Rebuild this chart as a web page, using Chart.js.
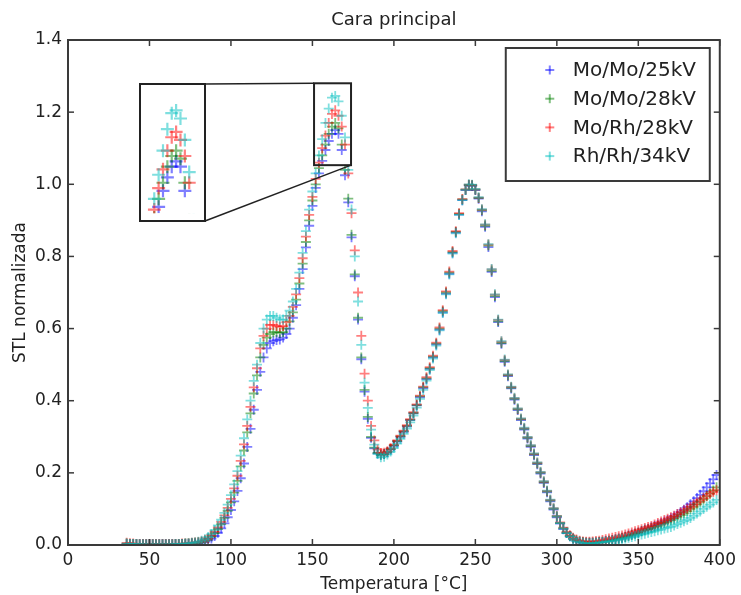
<!DOCTYPE html>
<html>
<head>
<meta charset="utf-8">
<script src="https://cdn.jsdelivr.net/npm/chart.js@4.4.1/dist/chart.umd.min.js"></script>
<style>
  html, body { margin: 0; padding: 0; background: #fff; }
  #wrap { position: relative; width: 741px; height: 595px; }
  #main { position: absolute; left: 0; top: 0; }
  #zoom { position: absolute; left: 139px; top: 83px; background: #fff; }
</style>
</head>
<body>
<div id="wrap">
  <canvas id="main" width="741" height="595"></canvas>
  <canvas id="zoom" width="67" height="139"></canvas>
</div>
<script>
// Temperatura [°C]
var temperatura = [
  36, 38, 40, 42, 44, 46, 48, 50, 52, 54,
  56, 58, 60, 62, 64, 66, 68, 70, 72, 74,
  76, 78, 80, 82, 84, 86, 88, 90, 92, 94,
  96, 98, 100, 102, 104, 106, 108, 110, 112, 114,
  116, 118, 120, 122, 124, 126, 128, 130, 132, 134,
  136, 138, 140, 142, 144, 146, 148, 150, 152, 154,
  156, 158, 160, 162, 164, 166, 168, 170, 172, 174,
  176, 178, 180, 182, 184, 186, 188, 190, 192, 194,
  196, 198, 200, 202, 204, 206, 208, 210, 212, 214,
  216, 218, 220, 222, 224, 226, 228, 230, 232, 234,
  236, 238, 240, 242, 244, 246, 248, 250, 252, 254,
  256, 258, 260, 262, 264, 266, 268, 270, 272, 274,
  276, 278, 280, 282, 284, 286, 288, 290, 292, 294,
  296, 298, 300, 302, 304, 306, 308, 310, 312, 314,
  316, 318, 320, 322, 324, 326, 328, 330, 332, 334,
  336, 338, 340, 342, 344, 346, 348, 350, 352, 354,
  356, 358, 360, 362, 364, 366, 368, 370, 372, 374,
  376, 378, 380, 382, 384, 386, 388, 390, 392, 394,
  396, 398
];

// STL normalizada, one list per tube / filter / voltage
var moMo25 = [
  .003, .003, .002, .002, .002, .002, .002, .002, .002, .002,
  .002, .002, .002, .002, .002, .002, .002, .003, .003, .003,
  .004, .004, .005, .007, .009, .013, .018, .025, .034, .046,
  .060, .077, .097, .121, .150, .185, .226, .272, .322, .375,
  .430, .480, .520, .545, .560, .565, .568, .570, .575, .585,
  .600, .630, .665, .710, .765, .825, .885, .940, .990, 1.030,
  1.065, 1.095, 1.120, 1.140, 1.150, 1.140, 1.095, 1.025, .950, .853,
  .745, .625, .515, .425, .350, .297, .268, .254, .250, .252,
  .257, .265, .275, .287, .300, .314, .329, .346, .365, .387,
  .410, .435, .460, .488, .520, .556, .597, .645, .697, .752,
  .810, .866, .916, .956, .984, .997, .996, .984, .960, .925,
  .882, .826, .757, .687, .618, .558, .508, .468, .434, .403,
  .374, .346, .320, .295, .272, .249, .224, .198, .172, .146,
  .121, .098, .077, .059, .044, .033, .024, .017, .012, .009,
  .007, .006, .006, .006, .007, .008, .009, .011, .012, .014,
  .016, .018, .020, .023, .026, .029, .032, .035, .039, .043,
  .045, .049, .053, .057, .061, .065, .069, .074, .079, .085,
  .091, .098, .105, .113, .121, .130, .139, .149, .160, .171,
  .182, .194
];
var moMo28 = [
  .004, .003, .003, .003, .002, .002, .002, .002, .002, .002,
  .002, .002, .002, .002, .002, .003, .003, .003, .004, .004,
  .005, .006, .007, .009, .012, .017, .024, .033, .044, .058,
  .075, .095, .118, .145, .178, .218, .262, .312, .365, .420,
  .470, .520, .555, .575, .585, .590, .590, .588, .590, .600,
  .620, .645, .680, .725, .780, .840, .900, .955, 1.000, 1.045,
  1.080, 1.110, 1.140, 1.160, 1.170, 1.155, 1.110, 1.040, .960, .860,
  .750, .630, .520, .430, .355, .300, .270, .255, .250, .252,
  .258, .266, .276, .288, .301, .315, .330, .347, .366, .388,
  .412, .437, .462, .490, .522, .558, .600, .648, .700, .755,
  .812, .868, .918, .958, .985, .998, .997, .985, .962, .928,
  .885, .830, .760, .690, .620, .560, .510, .470, .436, .405,
  .376, .348, .322, .297, .274, .251, .226, .200, .174, .148,
  .123, .100, .079, .061, .046, .034, .025, .018, .013, .010,
  .008, .007, .006, .007, .007, .008, .009, .010, .012, .013,
  .015, .017, .020, .022, .025, .028, .031, .034, .038, .041,
  .044, .047, .050, .053, .057, .061, .065, .069, .073, .078,
  .083, .088, .094, .100, .106, .113, .120, .127, .135, .143,
  .151, .160
];
var moRh28 = [
  .006, .005, .004, .003, .003, .003, .003, .003, .003, .003,
  .003, .003, .003, .003, .003, .003, .003, .004, .004, .005,
  .006, .007, .008, .010, .014, .019, .027, .037, .049, .064,
  .082, .103, .128, .157, .192, .233, .279, .330, .383, .437,
  .490, .545, .580, .600, .610, .610, .607, .605, .607, .618,
  .635, .660, .695, .740, .795, .855, .915, .965, 1.015, 1.060,
  1.100, 1.135, 1.170, 1.195, 1.205, 1.190, 1.160, 1.110, 1.030, .920,
  .817, .700, .580, .475, .400, .330, .290, .265, .255, .256,
  .260, .268, .278, .290, .303, .317, .332, .349, .368, .390,
  .414, .439, .465, .493, .525, .561, .603, .651, .703, .758,
  .815, .870, .920, .959, .986, .999, .998, .986, .963, .930,
  .888, .833, .764, .694, .624, .564, .513, .472, .438, .407,
  .378, .350, .324, .299, .276, .253, .228, .202, .176, .150,
  .125, .102, .081, .063, .048, .036, .027, .020, .015, .012,
  .010, .009, .009, .010, .011, .012, .014, .016, .018, .020,
  .022, .024, .026, .029, .032, .035, .038, .041, .044, .047,
  .050, .053, .057, .061, .065, .069, .073, .077, .081, .086,
  .091, .096, .101, .106, .112, .118, .124, .130, .136, .142,
  .147, .152
];
var rhRh34 = [
  .004, .003, .003, .003, .002, .002, .002, .002, .002, .002,
  .002, .002, .002, .002, .002, .003, .003, .003, .004, .005,
  .006, .007, .009, .012, .016, .022, .030, .041, .054, .070,
  .089, .112, .138, .168, .205, .248, .296, .348, .400, .455,
  .500, .560, .600, .625, .635, .635, .630, .625, .625, .635,
  .650, .675, .710, .755, .810, .870, .930, .980, 1.030, 1.080,
  1.125, 1.170, 1.210, 1.240, 1.245, 1.230, 1.190, 1.130, 1.040, .930,
  .800, .675, .555, .450, .380, .320, .278, .252, .243, .245,
  .251, .259, .269, .281, .294, .308, .323, .340, .359, .381,
  .405, .430, .456, .485, .517, .553, .595, .643, .695, .750,
  .808, .864, .915, .956, .985, 1.000, .999, .987, .964, .931,
  .889, .834, .765, .695, .625, .565, .514, .473, .439, .408,
  .379, .351, .325, .300, .277, .254, .229, .203, .177, .151,
  .126, .102, .080, .061, .046, .033, .024, .017, .011, .008,
  .006, .005, .004, .005, .006, .007, .008, .009, .010, .011,
  .013, .015, .016, .018, .020, .022, .024, .027, .029, .031,
  .034, .036, .038, .041, .043, .046, .048, .050, .054, .058,
  .062, .066, .070, .075, .081, .087, .093, .100, .106, .112,
  .118, .125
];

var etiquetas = ["Mo/Mo/25kV", "Mo/Mo/28kV", "Mo/Rh/28kV", "Rh/Rh/34kV"];
var colores = ["rgba(0,0,255,0.5)", "rgba(0,128,0,0.5)", "rgba(255,0,0,0.5)", "rgba(0,191,191,0.5)"];
var valores = [moMo25, moMo28, moRh28, rhRh34];

// zoomed window around the first peak
var zoomT = [151, 173.7];
var zoomV = [1.053, 1.28];

var fuente = "DejaVu Sans";
var gris = "#3a3a3a";

function makeDatasets(radius, width) {
  return valores.map(function (vals, i) {
    return {
      label: etiquetas[i],
      data: temperatura.map(function (t, k) { return { x: t, y: vals[k] }; }),
      pointStyle: "cross",
      pointRadius: radius,
      pointBorderWidth: width,
      borderColor: colores[i],
      backgroundColor: colores[i],
      // last series on top, like the original plot
      order: valores.length - 1 - i
    };
  });
}

function line(ctx, x1, y1, x2, y2) {
  ctx.beginPath();
  ctx.moveTo(x1, y1);
  ctx.lineTo(x2, y2);
  ctx.stroke();
}

// frame, inward ticks on the four sides, zoom box and legend
var framePlugin = {
  id: "frame",
  afterDraw: function (chart) {
    var ctx = chart.ctx;
    var a = chart.chartArea;
    var xs = chart.scales.x, ys = chart.scales.y;
    ctx.save();
    ctx.strokeStyle = gris;
    ctx.lineWidth = 1.5;
    xs.ticks.forEach(function (t) {
      var px = xs.getPixelForValue(t.value);
      line(ctx, px, a.bottom, px, a.bottom - 6);
      line(ctx, px, a.top, px, a.top + 6);
    });
    ys.ticks.forEach(function (t) {
      var py = ys.getPixelForValue(t.value);
      line(ctx, a.left, py, a.left + 6, py);
      line(ctx, a.right, py, a.right - 6, py);
    });
    ctx.lineWidth = 2;
    ctx.strokeRect(a.left, a.top, a.right - a.left, a.bottom - a.top);

    // zoom box and connectors to the inset
    var bx1 = xs.getPixelForValue(zoomT[0]), bx2 = xs.getPixelForValue(zoomT[1]);
    var by1 = ys.getPixelForValue(zoomV[1]), by2 = ys.getPixelForValue(zoomV[0]);
    var inset = document.getElementById("zoom");
    var ix = inset.offsetLeft + inset.width - 1, iy1 = inset.offsetTop + 1, iy2 = inset.offsetTop + inset.height - 1;
    ctx.strokeStyle = "#222";
    ctx.lineWidth = 2;
    ctx.strokeRect(bx1, by1, bx2 - bx1, by2 - by1);
    ctx.lineWidth = 1.5;
    line(ctx, ix, iy1, bx1, by1);
    line(ctx, ix, iy2, bx2, by2);

    // legend
    var lx = a.right - 214, ly = a.top + 8, lw = 204, lh = 133;
    ctx.fillStyle = "#fff";
    ctx.fillRect(lx, ly, lw, lh);
    ctx.strokeStyle = gris;
    ctx.lineWidth = 2;
    ctx.strokeRect(lx, ly, lw, lh);
    ctx.font = "20px '" + fuente + "'";
    ctx.textBaseline = "middle";
    chart.data.datasets.forEach(function (ds, i) {
      var y = ly + 22 + i * 28.7;
      var x = lx + 44;
      ctx.strokeStyle = ds.borderColor;
      ctx.lineWidth = 2;
      line(ctx, x - 4.5, y, x + 4.5, y);
      line(ctx, x, y - 4.5, x, y + 4.5);
      ctx.fillStyle = "#222";
      ctx.fillText(ds.label, lx + 67, y + 1);
    });
    ctx.restore();
  }
};

var mainChart = new Chart(document.getElementById("main"), {
  type: "scatter",
  data: { datasets: makeDatasets(5, 1.8) },
  options: {
    responsive: false,
    animation: false,
    events: [],
    layout: { padding: { left: 0, right: 19, top: 0, bottom: 0 } },
    plugins: {
      legend: { display: false },
      tooltip: { enabled: false },
      title: {
        display: true,
        fullSize: false,
        text: "Cara principal",
        color: "#222",
        font: { family: fuente, size: 18, weight: "normal" },
        padding: { top: 10, bottom: 8.4 }
      }
    },
    scales: {
      x: {
        type: "linear",
        min: 0,
        max: 400,
        grid: { display: false, drawTicks: false },
        border: { display: false },
        ticks: {
          stepSize: 50,
          maxRotation: 0,
          padding: 5,
          color: "#222",
          font: { family: fuente, size: 17 }
        },
        title: {
          display: true,
          text: "Temperatura [°C]",
          color: "#222",
          font: { family: fuente, size: 17 },
          padding: { top: 0, bottom: 0 }
        },
        afterFit: function (scale) { scale.height = 50; }
      },
      y: {
        min: 0,
        max: 1.4,
        grid: { display: false, drawTicks: false },
        border: { display: false },
        ticks: {
          stepSize: 0.2,
          padding: 6,
          color: "#222",
          font: { family: fuente, size: 17 },
          callback: function (v) { return v.toFixed(1); }
        },
        title: {
          display: true,
          text: "STL normalizada",
          color: "#222",
          font: { family: fuente, size: 17 },
          padding: { top: 10, bottom: 0 }
        },
        afterFit: function (scale) { scale.width = 68; }
      }
    }
  },
  plugins: [framePlugin]
});

// inset: same data, magnified around the first peak
var insetFrame = {
  id: "insetFrame",
  afterDraw: function (chart) {
    var ctx = chart.ctx;
    ctx.save();
    ctx.strokeStyle = "#222";
    ctx.lineWidth = 2;
    ctx.strokeRect(1, 1, chart.width - 2, chart.height - 2);
    ctx.restore();
  }
};

var zoomChart = new Chart(document.getElementById("zoom"), {
  type: "scatter",
  data: { datasets: makeDatasets(6.5, 2.2) },
  options: {
    responsive: false,
    animation: false,
    events: [],
    layout: { padding: 0 },
    plugins: { legend: { display: false }, tooltip: { enabled: false } },
    scales: {
      x: { display: false, min: zoomT[0], max: zoomT[1] },
      y: { display: false, min: zoomV[0], max: zoomV[1] }
    }
  },
  plugins: [insetFrame]
});
</script>
</body>
</html>
